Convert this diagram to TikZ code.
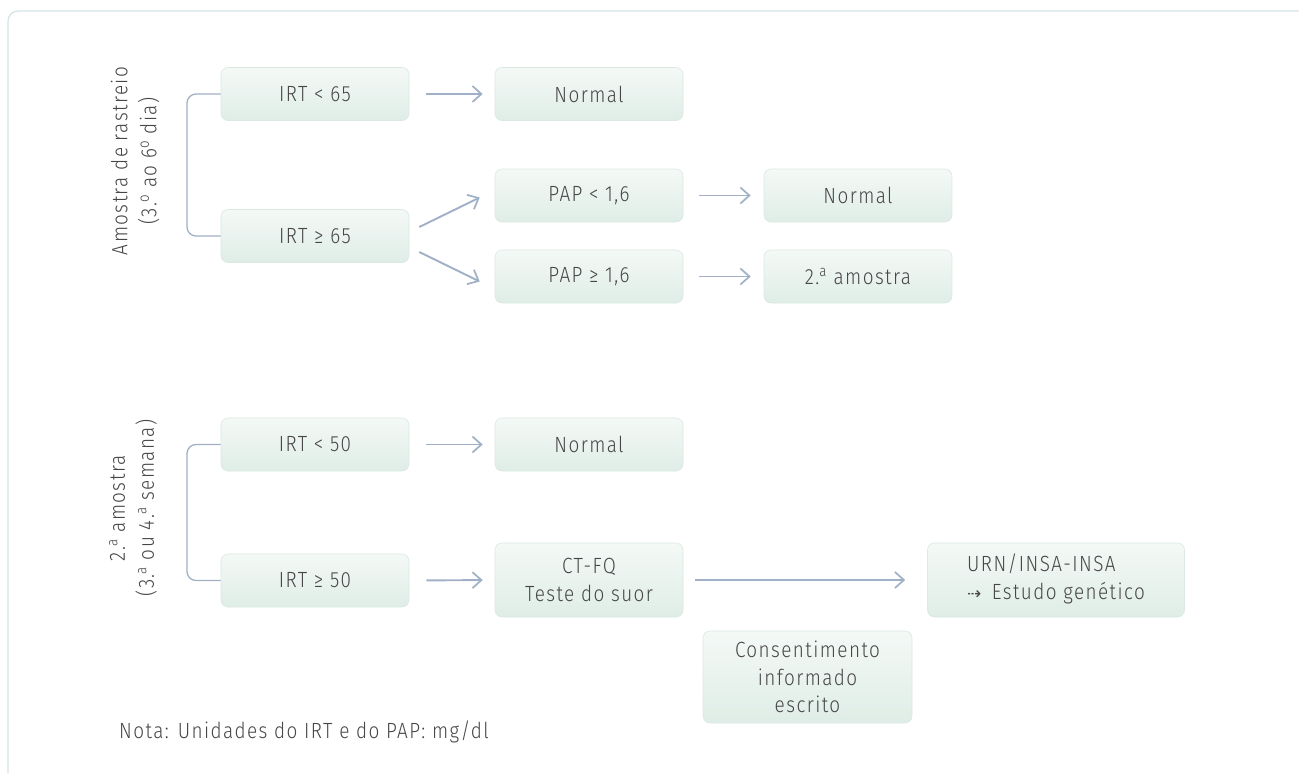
\documentclass[tikz,border=0pt]{standalone}
\usepackage{fontspec}
\setmainfont{Fira Sans Light}[LetterSpace=6.5,FakeStretch=0.86]
\newfontfamily\arrowfont{DejaVu Sans}
\usetikzlibrary{arrows.meta,calc}
\definecolor{txt}{HTML}{474747}
\definecolor{boxtop}{HTML}{F4F9F6}
\definecolor{boxbot}{HTML}{DFEDE7}
\definecolor{boxline}{HTML}{DCE9E3}
\definecolor{arrc}{HTML}{A0B0C6}
\definecolor{framec}{HTML}{D5E3E7}
\newcommand\ordsup[1]{\textsuperscript{#1}}
\begin{document}
\begin{tikzpicture}[x=1pt,y=-1pt,
  box/.style={rounded corners=7pt, top color=boxtop, bottom color=boxbot, draw=boxline,
    line width=0.6pt, minimum width=188pt, minimum height=53pt, inner sep=0pt,
    text=txt, font=\fontsize{22}{27.5}\selectfont, align=center},
  lbl/.style={text=txt, font=\fontsize{22}{29}\selectfont, align=center, inner sep=0pt},
  arr/.style={draw=arrc, line width=1.9pt, -{Straight Barb[length=9pt,width=16pt,line width=1.7pt]}},
  brk/.style={draw=arrc, line width=1.3pt, rounded corners=9pt}]
\clip (0,0) rectangle (1299,772);
\useasboundingbox (0,0) rectangle (1299,772);
\fill[white] (0,0) rectangle (1299,772);
\draw[framec, line width=1.2pt, rounded corners=10pt] (8,11) rectangle (1330,800);

% section 1
\node[lbl, rotate=90] (l1) at (135,161) {Amostra de rastreio\\(3.\ordsup{o} ao 6\ordsup{o} dia)};
\node[box] (a1) at (315,94) {IRT < 65};
\node[box] (n1) at (589,94) {Normal};
\node[box] (a2) at (315,236) {IRT ≥ 65};
\node[box] (p1) at (589,195.5) {PAP < 1,6};
\node[box] (n2) at (858,195.5) {Normal};
\node[box] (p2) at (589,276.5) {PAP ≥ 1,6};
\node[box] (s2) at (858,276.5) {2.\ordsup{a} amostra};

\draw[brk] (a1.west) -| (187,236) -- (a2.west);
\draw[arr, shorten <=17pt, shorten >=12pt] (a1.east) -- (n1.west);
\draw[arr] ($(a2.east)+(10,-9)$) -- ($(p1.west)+(-15,2)$);
\draw[arr] ($(a2.east)+(10,16)$) -- ($(p2.west)+(-15,5)$);
\draw[arr, shorten <=16pt, shorten >=13pt] (p1.east) -- (n2.west);
\draw[arr, shorten <=16pt, shorten >=13pt] (p2.east) -- (s2.west);

% section 2
\node[lbl, rotate=90] (l2) at (133,508) {2.\ordsup{a} amostra\\(3.\ordsup{a} ou 4.\ordsup{a} semana)};
\node[box] (b1) at (315,444.5) {IRT < 50};
\node[box] (n3) at (589,444.5) {Normal};
\node[box] (b2) at (315,580.5) {IRT ≥ 50};
\node[box, minimum height=74pt] (ct) at (589,580) {CT-FQ\\Teste do suor};
\node[box, minimum width=257pt, minimum height=74pt] (urn) at (1056,580)
  {\begin{tabular}{@{}l@{}}URN/INSA-INSA\\{\arrowfont\fontsize{17}{17}\selectfont ⇢}\, Estudo genético\end{tabular}};
\node[box, minimum width=209pt, minimum height=92pt] (cons) at (807.5,677) {Consentimento\\informado\\escrito};

\draw[brk] (b1.west) -| (187,580.5) -- (b2.west);
\draw[arr, shorten <=17pt, shorten >=12pt] (b1.east) -- (n3.west);
\draw[arr, shorten <=17pt, shorten >=12pt] (b2.east) -- (ct.west);
\draw[arr, shorten <=12pt, shorten >=22pt] (ct.east) -- (urn.west);

\node[lbl, anchor=west] (nota) at (119,732) {Nota: Unidades do IRT e do PAP: mg/dl};
\end{tikzpicture}
\end{document}
